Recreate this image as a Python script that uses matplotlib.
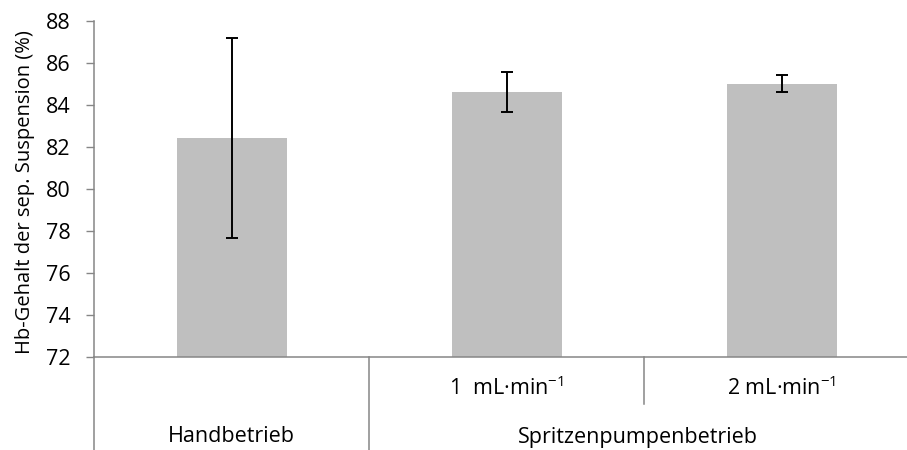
import matplotlib
matplotlib.use("Agg")
import matplotlib.pyplot as plt

FONT = 'Open Sans'
plt.rcParams['font.family'] = [FONT, 'DejaVu Sans']
plt.rcParams['mathtext.fontset'] = 'custom'
plt.rcParams['mathtext.rm'] = FONT
plt.rcParams['mathtext.it'] = FONT + ':italic'
plt.rcParams['mathtext.bf'] = FONT + ':bold'

# Data
sub_labels = ["", "1  mL\u00b7min$^{-1}$", "2 mL\u00b7min$^{-1}$"]
group_labels = ["Handbetrieb", "Spritzenpumpenbetrieb"]
group_sizes = [1, 2]
values = [82.44, 84.60, 85.01]
errors = [4.76, 0.95, 0.41]
y_ticks = [72, 74, 76, 78, 80, 82, 84, 86, 88]
y_label = "Hb-Gehalt der sep. Suspension (%)"

grey = "#868686"
fs_tick = 15.5
fs_cat = 15.5
fs_lab = 14.5

fig = plt.figure(figsize=(9.07, 4.5), dpi=100)
ax = fig.add_axes([94/907, 1 - 357/450, 1 - 94/907, 336/450])

x = list(range(len(values)))
ax.bar(x, [v - y_ticks[0] for v in values], bottom=y_ticks[0], width=0.40,
       color="#BFBFBF", zorder=2)
ax.errorbar(x, values, yerr=errors, fmt='none', ecolor='black',
            elinewidth=1.4, capsize=4.2, capthick=1.4, zorder=3)

xmax = 2.455
ax.set_xlim(-0.5, xmax)
ax.set_ylim(y_ticks[0], y_ticks[-1])
ax.set_yticks(y_ticks)
ax.set_yticklabels([str(t) for t in y_ticks], fontsize=fs_tick)
ax.set_xticks([])
ax.tick_params(axis='y', direction='out', length=5.8, width=1.0, color=grey,
               pad=11.0)
for s in ['top', 'right']:
    ax.spines[s].set_visible(False)
for s in ['left', 'bottom']:
    ax.spines[s].set_color(grey)
    ax.spines[s].set_linewidth(1.1)

fig.text(25/907, 1 - 192/450, y_label, rotation=90, fontsize=fs_lab,
         ha='center', va='center')

tr = ax.get_xaxis_transform()
low_full = -93/336
low_half = -47/336
ax.plot([-0.5, -0.5], [low_full, 0], transform=tr, color=grey, lw=1.1,
        clip_on=False)
pos = -0.5
for gi, n in enumerate(group_sizes):
    for k in range(1, n):
        ax.plot([pos + k] * 2, [low_half, 0], transform=tr,
                color=grey, lw=1.1, clip_on=False)
    pos += n
    if pos < xmax:
        ax.plot([pos, pos], [low_full, 0], transform=tr, color=grey, lw=1.1,
                clip_on=False)

for i, lab in enumerate(sub_labels):
    if lab:
        ax.text(i, -31/336, lab, transform=tr, ha='center', va='center',
                fontsize=fs_cat)

start = -0.5
for gi, n in enumerate(group_sizes):
    end = min(start + n, xmax)
    ax.text((start + end) / 2, -80/336, group_labels[gi], transform=tr,
            ha='center', va='center', fontsize=fs_cat)
    start += n

fig.savefig("out.png", dpi=100)
